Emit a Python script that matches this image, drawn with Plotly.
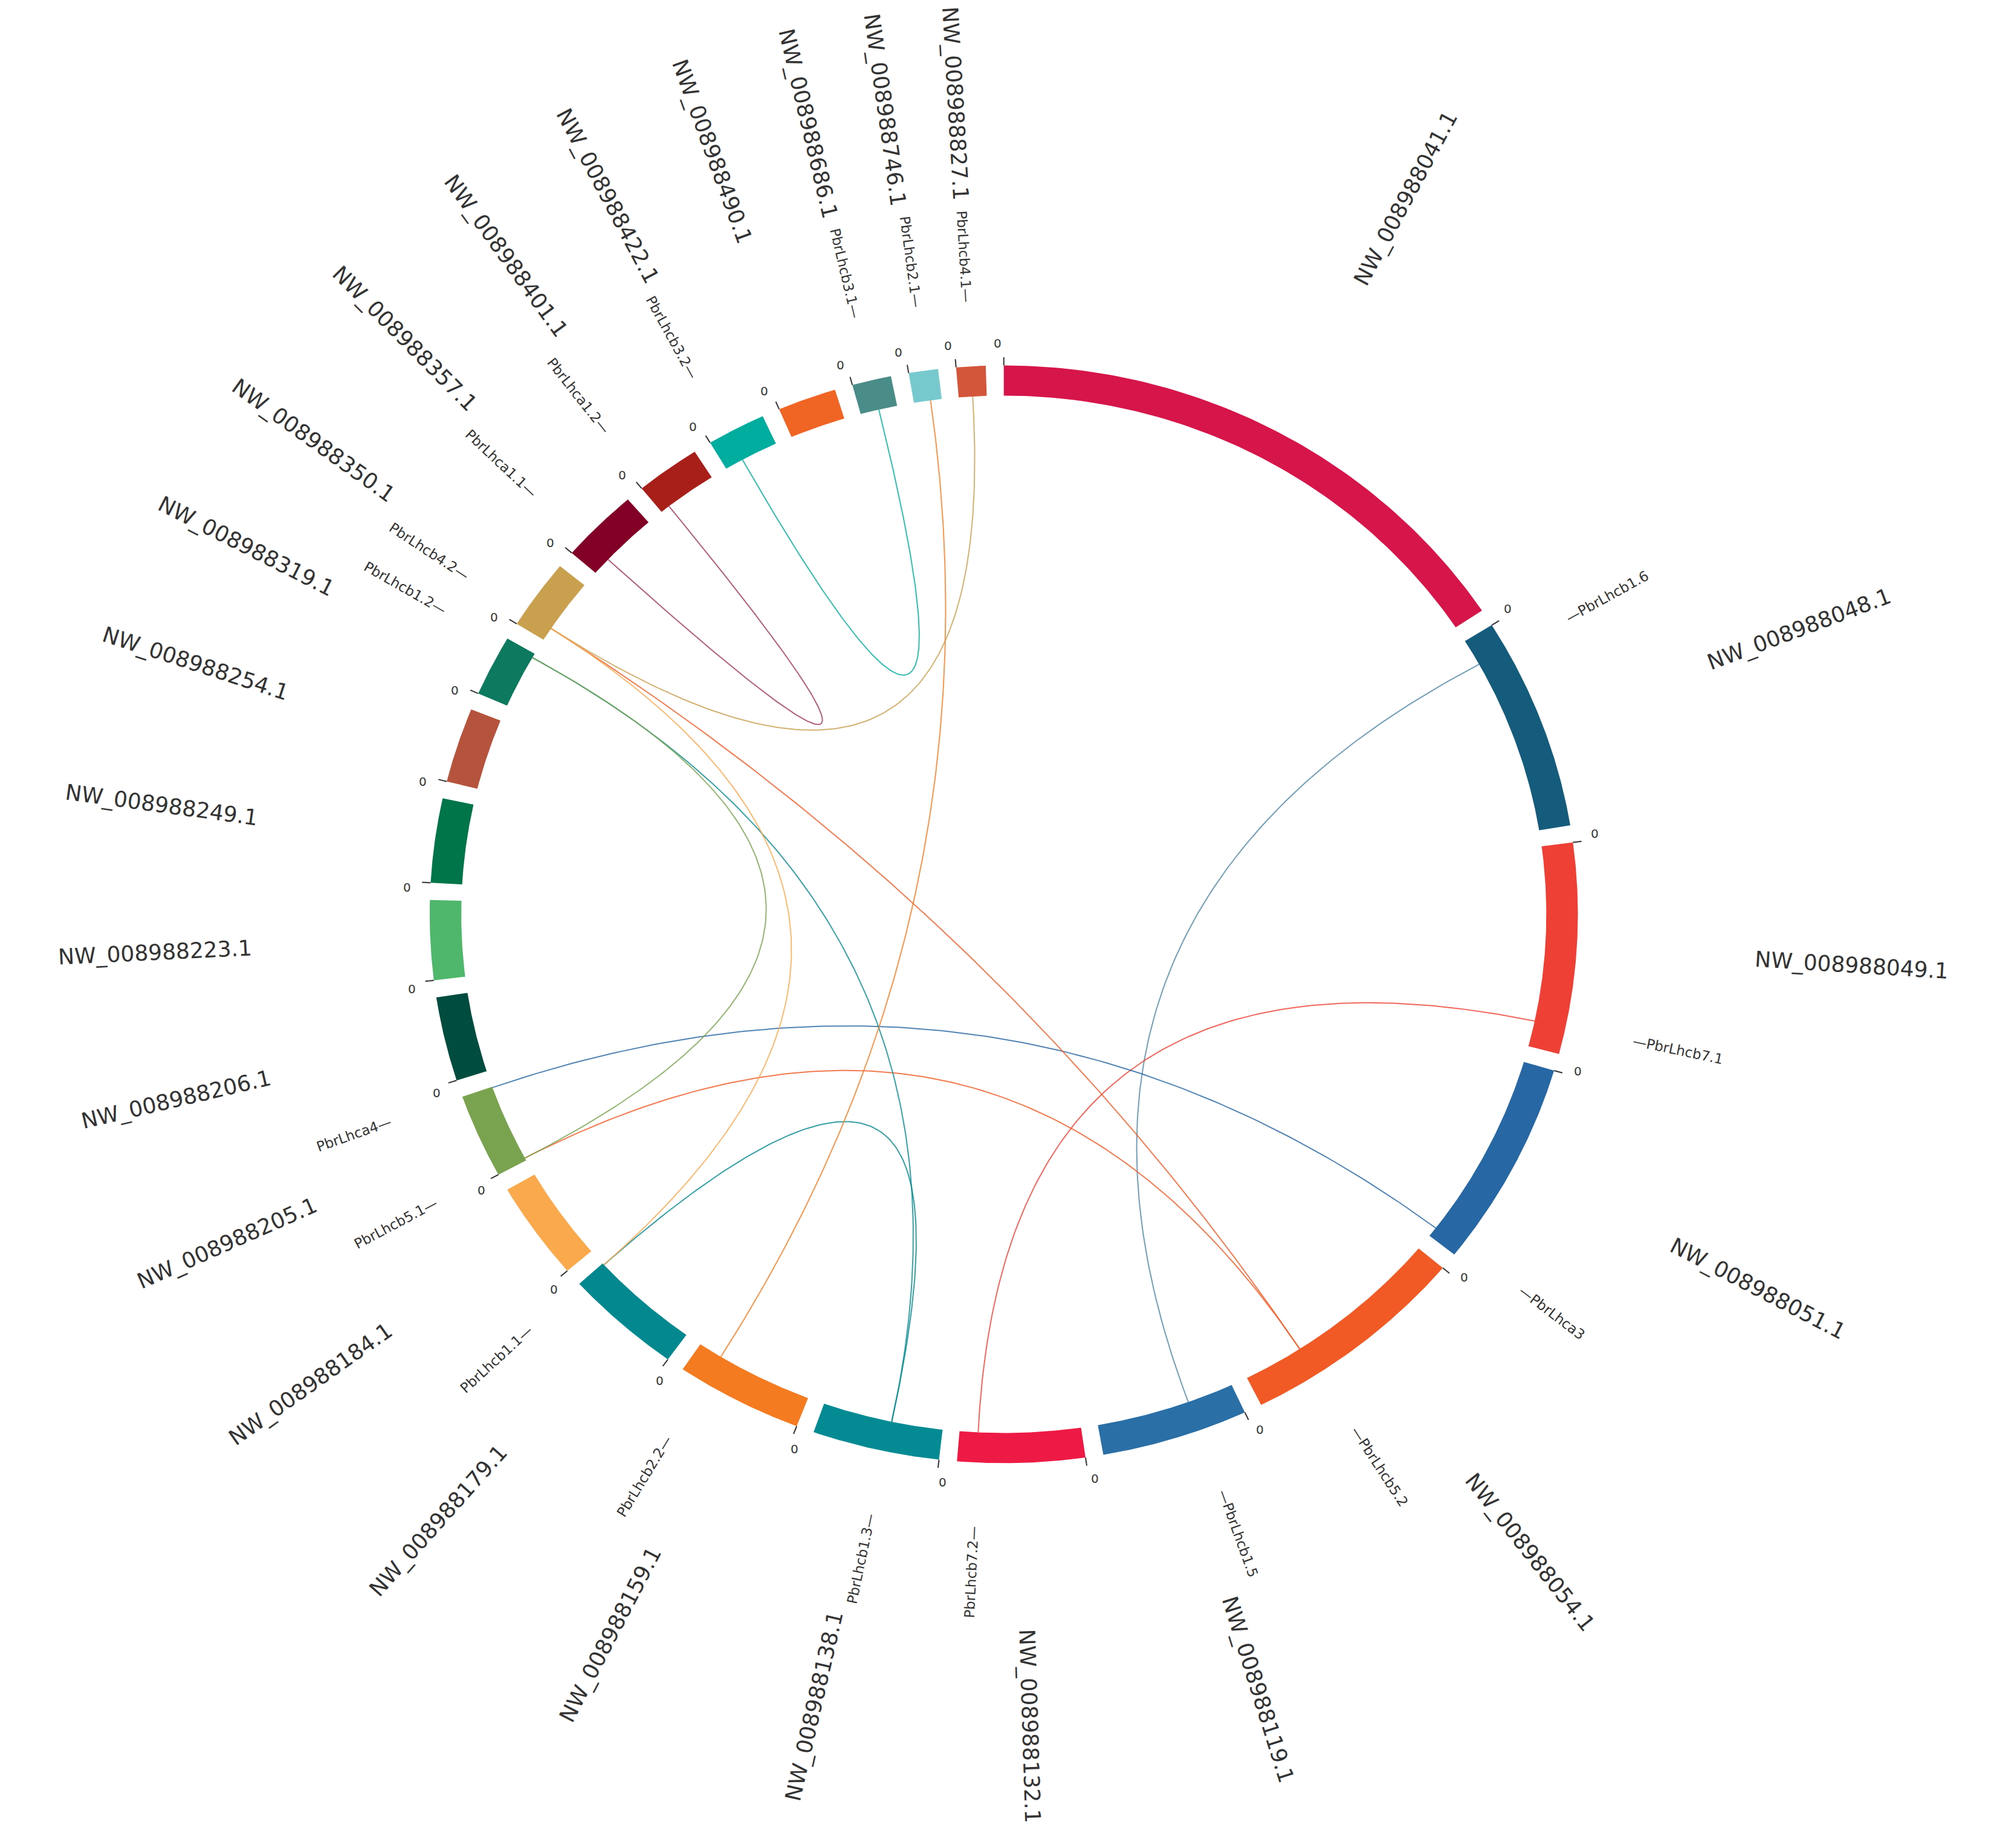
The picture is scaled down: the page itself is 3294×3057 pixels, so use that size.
import numpy as np
import plotly.graph_objects as go

# chromosomes (scaffolds) clockwise from top, lengths in arbitrary kb units
chroms = ["NW_008988041.1", "NW_008988048.1", "NW_008988049.1", "NW_008988051.1",
          "NW_008988054.1", "NW_008988119.1", "NW_008988132.1", "NW_008988138.1",
          "NW_008988159.1", "NW_008988179.1", "NW_008988184.1", "NW_008988205.1",
          "NW_008988206.1", "NW_008988223.1", "NW_008988249.1", "NW_008988254.1",
          "NW_008988319.1", "NW_008988350.1", "NW_008988357.1", "NW_008988401.1",
          "NW_008988422.1", "NW_008988490.1", "NW_008988686.1", "NW_008988746.1",
          "NW_008988827.1"]
lengths = [5700, 2270, 2250, 2200, 2350, 1500, 1300, 1300, 1300, 1200, 1050, 900,
           900, 850, 900, 800, 650, 750, 800, 660, 600, 600, 400, 300, 300]
colors = ["#d6154a", "#155b7b", "#ee4035", "#2767a3", "#f15a24", "#2a6fa5", "#ec1a44",
          "#048a92", "#f47b20", "#03888f", "#fba94d", "#7aa34f", "#004d3f", "#4fb76b",
          "#00754a", "#b5533c", "#0d7a60", "#c9a04e", "#820025", "#a81f19", "#00ad9f",
          "#f06424", "#4a8c88", "#76cacd", "#d3553a"]

# genes: name, chromosome index, position (kb)
gene_names = ["PbrLhcb1.6", "PbrLhcb7.1", "PbrLhca3", "PbrLhcb5.2", "PbrLhcb1.5",
              "PbrLhcb7.2", "PbrLhcb1.3", "PbrLhcb2.2", "PbrLhcb1.1", "PbrLhcb5.1",
              "PbrLhca4", "PbrLhcb1.2", "PbrLhcb4.2", "PbrLhca1.1", "PbrLhca1.2",
              "PbrLhcb3.2", "PbrLhcb3.1", "PbrLhcb2.1", "PbrLhcb4.1"]
gene_chrom = [1, 2, 3, 4, 5, 6, 7, 8, 9, 11, 11, 16, 17, 18, 19, 20, 22, 23, 24]
gene_pos = [300, 1960, 2090, 1700, 500, 1100, 550, 1040, 1180, 30, 890, 600, 150, 200,
            100, 200, 200, 180, 150]

# links between genes (source, target, colour)
link_src = ["PbrLhcb1.6", "PbrLhcb7.1", "PbrLhca3", "PbrLhcb5.2", "PbrLhcb5.2",
            "PbrLhcb1.3", "PbrLhcb1.3", "PbrLhcb2.2", "PbrLhcb4.2", "PbrLhcb4.2",
            "PbrLhcb1.2", "PbrLhca1.1", "PbrLhcb3.2"]
link_dst = ["PbrLhcb1.5", "PbrLhcb7.2", "PbrLhca4", "PbrLhcb5.1", "PbrLhcb4.2",
            "PbrLhcb1.1", "PbrLhcb1.2", "PbrLhcb2.1", "PbrLhcb4.1", "PbrLhcb1.1",
            "PbrLhcb5.1", "PbrLhca1.2", "PbrLhcb3.1"]
link_col = ["#4f86a6", "#ee4035", "#2767a3", "#f15a24", "#f15a24", "#03888f", "#048a92",
            "#f47b20", "#c9a04e", "#fba94d", "#7aa34f", "#a0385a", "#00ad9f"]

GAP = 1.8
total = sum(lengths)
deg_per = (360 - GAP * len(lengths)) / total
starts = []
a = 0.0
for L in lengths:
    starts.append(a)
    a += L * deg_per + GAP


def xy(theta, r):
    t = np.radians(theta)
    return r * np.sin(t), r * np.cos(t)


def gene_angle(i):
    return starts[gene_chrom[i]] + gene_pos[i] * deg_per


R_IN, R_OUT = 0.945, 1.0
fig = go.Figure()
ann = []

for i, name in enumerate(chroms):
    t = np.linspace(starts[i], starts[i] + lengths[i] * deg_per, 80)
    xo, yo = xy(t, R_OUT)
    xi, yi = xy(t[::-1], R_IN)
    fig.add_trace(go.Scatter(x=np.r_[xo, xi], y=np.r_[yo, yi], fill="toself",
                             fillcolor=colors[i], line=dict(width=0), mode="lines",
                             hoverinfo="text", text=name))
    # start tick "0"
    x0, y0 = xy(starts[i], R_OUT)
    x1, y1 = xy(starts[i], R_OUT + 0.015)
    fig.add_trace(go.Scatter(x=[x0, x1], y=[y0, y1], mode="lines",
                             line=dict(color="#333", width=2), hoverinfo="skip"))
    tx, ty = xy(starts[i] - 0.6, R_OUT + 0.04)
    ann.append(dict(x=tx, y=ty, text="0", showarrow=False, font=dict(size=20, color="#333")))
    mid = starts[i] + lengths[i] * deg_per / 2
    lx, ly = xy(mid, 1.48)
    ang = mid - 90 if mid < 180 else mid - 270
    ann.append(dict(x=lx, y=ly, text=name, showarrow=False, textangle=ang,
                    font=dict(size=36, color="#333")))

for i, g in enumerate(gene_names):
    th = gene_angle(i)
    lx, ly = xy(th, 1.2)
    if th < 180:
        ang, txt = th - 90, "—" + g
    else:
        ang, txt = th - 270, g + "—"
    ann.append(dict(x=lx, y=ly, text=txt, showarrow=False, textangle=ang,
                    font=dict(size=23, color="#333")))

s = np.linspace(0, 1, 120)
for a_, b_, c in zip(link_src, link_dst, link_col):
    ta = gene_angle(gene_names.index(a_))
    tb = gene_angle(gene_names.index(b_))
    pa = np.array(xy(ta, R_IN))
    pb = np.array(xy(tb, R_IN))
    pts = np.outer((1 - s) ** 2, pa) + np.outer(s ** 2, pb)
    fig.add_trace(go.Scatter(x=pts[:, 0], y=pts[:, 1], mode="lines", opacity=0.8,
                             line=dict(color=c, width=2), hoverinfo="skip"))

fig.update_layout(width=3294, height=3057, margin=dict(l=0, r=0, t=0, b=0),
                  plot_bgcolor="white", paper_bgcolor="white", showlegend=False,
                  annotations=ann, font=dict(family="DejaVu Sans"))
fig.update_xaxes(range=[-1.740, 1.728], visible=False)
fig.update_yaxes(range=[-1.710, 1.657], visible=False)
fig.write_html("out.html")
